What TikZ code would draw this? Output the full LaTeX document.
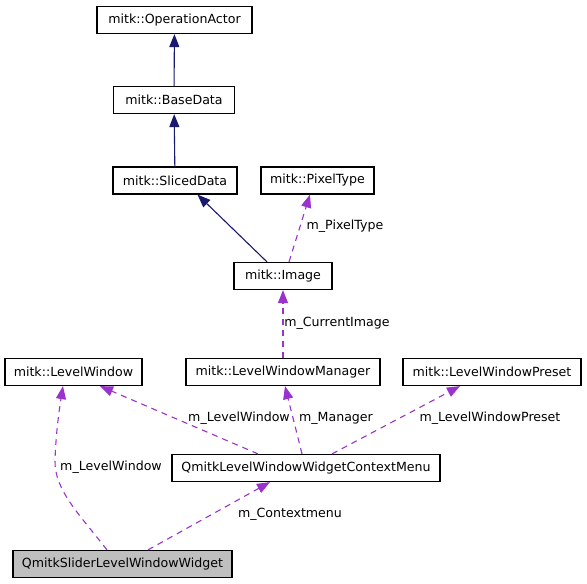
\documentclass[tikz,border=0pt]{standalone}
\usepackage{fontspec}
\setmainfont{DejaVu Sans}
\usetikzlibrary{arrows.meta}
\definecolor{inhcol}{HTML}{191970}
\definecolor{usecol}{HTML}{9A32CD}

\begin{document}
\begin{tikzpicture}[x=1pt, y=-1pt, thick,
    cls/.style={draw, line width=1.2pt, minimum height=27pt, inner sep=0pt, font=\fontsize{12.6}{14}\selectfont},
    lbl/.style={inner sep=0pt, text=black, font=\fontsize{12.6}{14}\selectfont},
    inh/.style={-{Triangle[length=13pt,width=10pt]}, inhcol, line width=1.1pt},
    use/.style={-{Triangle[length=13pt,width=10pt]}, usecol, line width=1.1pt, dash pattern=on 6pt off 5pt}]
    \useasboundingbox (0,0) rectangle (587,584);

    \node[cls, minimum width=155pt] at (174.5,20)  (opact) {mitk::OperationActor};
    \node[cls, minimum width=121pt] at (174,100)   (base) {mitk::BaseData};
    \node[cls, minimum width=124pt] at (175,180.5) (sliced) {mitk::SlicedData};
    \node[cls, minimum width=113pt] at (317.5,180.5) (pixel) {mitk::PixelType};
    \node[cls, minimum width=98pt]  at (283,276)   (image) {mitk::Image};

    \node[cls, minimum width=137pt] at (73.5,372)  (lw) {mitk::LevelWindow};
    \node[cls, minimum width=194pt] at (283,372)   (lwm) {mitk::LevelWindowManager};
    \node[cls, minimum width=178pt] at (492,372)   (lwp) {mitk::LevelWindowPreset};
    \node[cls, minimum width=268pt] at (306,468)   (ctx) {QmitkLevelWindowWidgetContextMenu};
    \node[cls, minimum width=219pt, fill=black!25] at (122.5,564) (slider) {QmitkSliderLevelWindowWidget};

    % inheritance
    \draw[inh] (base) -- (opact);
    \draw[inh] (sliced) -- (base);
    \draw[inh] ([xshift=-16]image.north) -- ([xshift=22.5]sliced.south);

    % usage
    \draw[use] ([xshift=6]image.north) -- ([xshift=-7.5]pixel.south) node[lbl] at (345,226) {m\_PixelType};
    \draw[use] (lwm) -- (image) node[lbl] at (337,323) {m\_CurrentImage};
    \draw[use] ([xshift=-48]ctx.north) -- ([xshift=26.5]lw.south) node[lbl] at (239,418) {m\_LevelWindow};
    \draw[use] ([xshift=-4]ctx.north) -- ([xshift=2]lwm.south) node[lbl] at (336,418) {m\_Manager};
    \draw[use] ([xshift=26]ctx.north) -- ([xshift=-32]lwp.south) node[lbl] at (490,418) {m\_LevelWindowPreset};
    \draw[use] ([xshift=-15.5]slider.north) .. controls (80,515) and (54,490) .. (55,460) .. controls (56,430) and (60,405) .. ([xshift=-10.5]lw.south);
    \node[lbl] at (111,467) (llw) {m\_LevelWindow};
    \draw[use] ([xshift=25.5]slider.north) -- ([xshift=-36]ctx.south) node[lbl] at (290,514) {m\_Contextmenu};

\end{tikzpicture}
\end{document}
